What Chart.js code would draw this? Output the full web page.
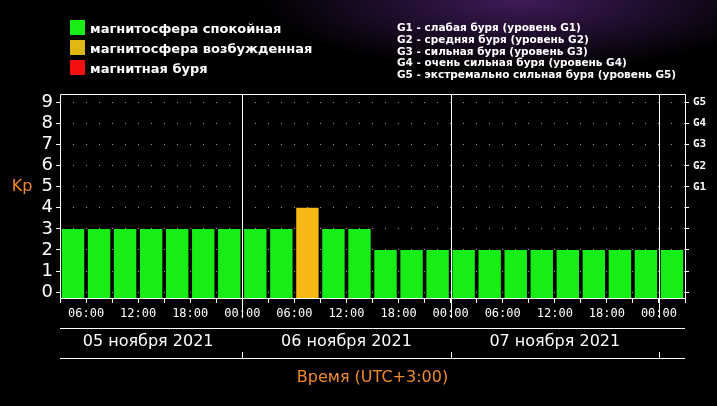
<!DOCTYPE html>
<html>
<head>
<meta charset="utf-8">
<script src="https://cdn.jsdelivr.net/npm/chart.js@4"></script>
<style>
  html, body { margin: 0; padding: 0; }
  body {
    width: 717px; height: 406px; overflow: hidden;
    background: radial-gradient(ellipse 260px 70px at 520px 0px, rgba(70,30,100,0.9), rgba(0,0,0,0) 100%), #000;
  }
  #wrap { position: relative; width: 717px; height: 406px; }
  .leg { position: absolute; left: 70px; font: bold 13px "DejaVu Sans", sans-serif; color: #fff; }
  .leg span { display: inline-block; width: 15px; height: 15px; vertical-align: -2px; margin-right: 5px; }
  #g { position: absolute; left: 397px; top: 22px; font: bold 10.5px "DejaVu Sans", sans-serif; color: #fff; line-height: 11.8px; }
</style>
</head>
<body>
<div id="wrap">
  <canvas id="kp" width="717" height="406"></canvas>
  <div class="leg" style="top:20px"><span style="background:#16ee16"></span>магнитосфера спокойная</div>
  <div class="leg" style="top:40px"><span style="background:#e0b814"></span>магнитосфера возбужденная</div>
  <div class="leg" style="top:60px"><span style="background:#f51010"></span>магнитная буря</div>
  <div id="g"></div>
</div>
<script>
/* Kp index, 3-hour bins starting 05.11.2021 03:00 UTC+3 */
const kpValues = [3, 3, 3, 3, 3, 3, 3,
                  3, 3, 4, 3, 3, 2, 2, 2,
                  2, 2, 2, 2, 2, 2, 2, 2,
                  2];
const timeLabels = ["06:00", "12:00", "18:00", "00:00"];
const dayLabels = ["05 ноября 2021", "06 ноября 2021", "07 ноября 2021"];
const dayStarts = [7, 15, 23];   // bin index where a new day begins
const gLevels = ["G1", "G2", "G3", "G4", "G5"];
const gLegend = [
  "G1 - слабая буря (уровень G1)",
  "G2 - средняя буря (уровень G2)",
  "G3 - сильная буря (уровень G3)",
  "G4 - очень сильная буря (уровень G4)",
  "G5 - экстремально сильная буря (уровень G5)",
];

document.getElementById("g").innerHTML = gLegend.join("<br>");

const Y_MIN = -0.28, Y_MAX = 9.4;

function barColor(v) {
  if (v >= 5) return "#f51010";
  if (v >= 4) return "#f5b814";
  return "#16ee16";
}

/* day separators, day label row, axis titles */
const decorPlugin = {
  id: "decor",
  afterDraw(chart) {
    const { ctx, chartArea: a, scales: { x } } = chart;
    ctx.save();
    ctx.strokeStyle = "#fff";
    ctx.lineWidth = 1;
    ctx.beginPath();
    ctx.rect(a.left + 0.5, a.top + 0.5, a.right - a.left, a.bottom - a.top);
    dayStarts.forEach((d) => {
      const px = Math.round(x.getPixelForValue(d)) + 0.5;
      ctx.moveTo(px, a.top); ctx.lineTo(px, a.bottom + 20);
      ctx.moveTo(px, 352); ctx.lineTo(px, 358);
    });
    ctx.moveTo(a.left, 328.5); ctx.lineTo(a.right, 328.5);
    ctx.moveTo(a.left, 358.5); ctx.lineTo(a.right, 358.5);
    ctx.stroke();

    ctx.fillStyle = "#fff";
    ctx.font = "16px 'DejaVu Sans', sans-serif";
    ctx.textAlign = "center";
    ctx.textBaseline = "middle";
    const edges = [0, ...dayStarts];
    dayLabels.forEach((t, i) => {
      const cx = (x.getPixelForValue(edges[i]) + x.getPixelForValue(edges[i + 1])) / 2;
      ctx.fillText(t, cx - (i === 0 ? 3 : 0), 342);
    });

    ctx.fillStyle = "#f08a28";
    ctx.fillText("Время (UTC+3:00)", (a.left + a.right) / 2, 378);
    ctx.fillText("Kp", 22, 187);
    ctx.restore();
  },
};

function intTicks(s) {
  s.ticks = [];
  for (let i = 0; i <= 9; i++) s.ticks.push({ value: i });
}

new Chart(document.getElementById("kp"), {
  type: "bar",
  data: {
    datasets: [{
      data: kpValues.map((v, i) => ({ x: i + 0.5, y: v })),
      backgroundColor: kpValues.map(barColor),
      base: Y_MIN,
      barPercentage: 0.86,
      categoryPercentage: 1,
    }],
  },
  options: {
    responsive: false,
    animation: false,
    devicePixelRatio: 1,
    layout: { padding: { top: 94 } },
    plugins: { legend: { display: false }, tooltip: { enabled: false } },
    scales: {
      x: {
        type: "linear",
        offset: false,
        min: 0, max: 24,
        afterFit: (s) => { s.height = 108; },
        afterBuildTicks: (s) => {
          s.ticks = [];
          for (let i = 0; i <= 24; i++) s.ticks.push({ value: i });
        },
        grid: { display: true, drawOnChartArea: false, color: "#fff", tickLength: 5, offset: false },
        border: { display: false },
        ticks: {
          color: "#fff",
          font: { family: "'DejaVu Sans Mono', monospace", size: 12 },
          padding: 4,
          autoSkip: false,
          maxRotation: 0,
          callback: (v) => (v % 2 === 1 ? timeLabels[((v - 1) / 2) % 4] : ""),
        },
      },
      y: {
        min: Y_MIN, max: Y_MAX,
        afterFit: (s) => { s.width = 60; },
        afterBuildTicks: intTicks,
        grid: { color: "#999", lineWidth: 1, tickLength: 4, tickColor: "#fff", tickBorderDash: [] },
        border: { display: false, dash: [1, 12] },
        ticks: { color: "#fff", font: { family: "'DejaVu Sans', sans-serif", size: 18 }, padding: 3, autoSkip: false },
      },
      y2: {
        position: "right",
        min: Y_MIN, max: Y_MAX,
        afterFit: (s) => { s.width = 32; },
        afterBuildTicks: intTicks,
        grid: { drawOnChartArea: false, color: "#fff", tickLength: 4 },
        border: { display: false },
        ticks: {
          color: "#fff",
          font: { family: "'DejaVu Sans Mono', monospace", size: 11, weight: "bold" },
          padding: 4,
          autoSkip: false,
          callback: (v) => (v >= 5 ? gLevels[v - 5] : ""),
        },
      },
    },
  },
  plugins: [decorPlugin],
});
</script>
</body>
</html>
